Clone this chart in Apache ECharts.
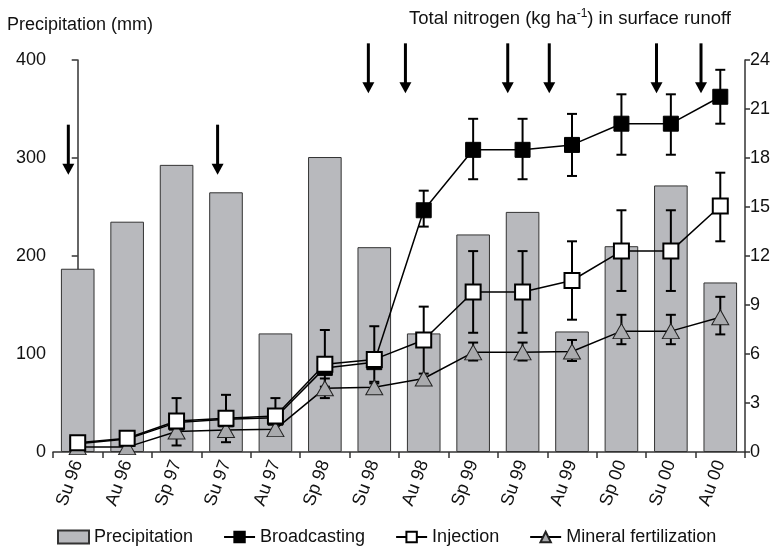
<!DOCTYPE html>
<html>
<head>
<meta charset="utf-8">
<script src="https://cdn.jsdelivr.net/npm/echarts@6/dist/echarts.min.js"></script>
<style>
html, body { margin: 0; padding: 0; background: #fff; }
#main { width: 776px; height: 549px; }
</style>
</head>
<body>
<div id="main"></div>
<script>
// seasons
var seasons = ['Su 96', 'Au 96', 'Sp 97', 'Su 97', 'Au 97', 'Sp 98', 'Su 98', 'Au 98', 'Sp 99', 'Su 99', 'Au 99', 'Sp 00', 'Su 00', 'Au 00'];
// precipitation (mm)
var precipitation = [187, 235, 293, 265, 121, 301, 209, 121, 222, 245, 123, 210, 272, 173];
// total N (kg/ha)
var broadcasting = [0.5, 0.8, 1.8, 2.0, 2.1, 5.15, 5.5, 14.8, 18.5, 18.5, 18.8, 20.1, 20.1, 21.75];
var injection = [0.57, 0.84, 1.9, 2.06, 2.2, 5.37, 5.67, 6.86, 9.8, 9.8, 10.5, 12.3, 12.3, 15.06];
var mineral = [0.3, 0.3, 1.25, 1.35, 1.4, 3.9, 3.96, 4.5, 6.1, 6.1, 6.15, 7.4, 7.4, 8.25];
// error bars [index, low, high]
var broadErr = [[7, 13.8, 16.0], [8, 16.7, 20.4], [9, 16.7, 20.4], [10, 16.9, 20.7], [11, 18.2, 21.9], [12, 18.2, 21.9], [13, 20.1, 23.4]];
var injErr = [[2, 0.4, 3.3], [3, 0.6, 3.5], [4, 1.1, 3.3], [5, 4.0, 7.47], [6, 4.2, 7.7], [7, 4.8, 8.9], [8, 7.3, 12.3], [9, 7.3, 12.3], [10, 8.1, 12.9], [11, 9.86, 14.8], [12, 9.86, 14.8], [13, 12.9, 17.1]];
var minErr = [[5, 3.3, 4.5], [6, 3.6, 4.3], [8, 5.6, 6.7], [9, 5.6, 6.7], [10, 5.57, 6.86], [11, 6.6, 8.4], [12, 6.6, 8.4], [13, 7.2, 9.5]];
// application arrows: [position on season scale, top, bottom] in mm units
var arrows = [[-0.19, 334, 283], [2.83, 334, 283], [5.88, 417, 366], [6.63, 417, 366], [8.70, 417, 366], [9.54, 417, 366], [11.71, 417, 366], [12.61, 417, 366]];

var FONT = 'Liberation Sans, Arial, sans-serif';

var errRender = function(params, api){
	var x = api.value(0);
	var lo = api.coord([x, api.value(1)]);
	var hi = api.coord([x, api.value(2)]);
	var w = 5;
	var st = {stroke: '#000', lineWidth: 2};
	return {
		type: 'group',
		children: [
			{type: 'line', shape: {x1: lo[0], y1: lo[1], x2: hi[0], y2: hi[1]}, style: st},
			{type: 'line', shape: {x1: hi[0] - w, y1: hi[1], x2: hi[0] + w, y2: hi[1]}, style: st},
			{type: 'line', shape: {x1: lo[0] - w, y1: lo[1], x2: lo[0] + w, y2: lo[1]}, style: st}
		]
	};
};

var arrowRender = function(params, api){
	var top = api.coord([api.value(0), api.value(1)]);
	var bot = api.coord([api.value(0), api.value(2)]);
	return {
		type: 'group',
		children: [
			{type: 'rect', shape: {x: top[0] - 1.5, y: top[1], width: 3, height: bot[1] - top[1] - 8}, style: {fill: '#000'}},
			{type: 'polygon', shape: {points: [[bot[0] - 6, bot[1] - 11], [bot[0] + 6, bot[1] - 11], [bot[0], bot[1]]]}, style: {fill: '#000'}}
		]
	};
};

var axisLine = {show: true, lineStyle: {color: '#333', width: 1.5}};

var option = {
	animation: false,
	textStyle: {fontFamily: FONT},
	title: [{
		text: 'Precipitation (mm)',
		left: 2, top: 11,
		textStyle: {fontSize: 18, fontWeight: 'normal', color: '#111', fontFamily: FONT}
	}, {
		text: '{a|Total nitrogen (kg ha}{s|-1}{a|) in surface runoff}',
		left: 404, top: 3,
		textStyle: {
			fontWeight: 'normal',
			rich: {
				a: {fontSize: 18.5, fontWeight: 'normal', color: '#111', fontFamily: FONT},
				s: {fontSize: 12, fontWeight: 'normal', color: '#111', fontFamily: FONT, padding: [0, 0, 9, 0]}
			}
		}
	}],
	legend: {
		data: [{name: 'Precipitation', icon: 'rect'}, 'Broadcasting', 'Injection', 'Mineral fertilization'],
		left: 52, top: 523,
		itemWidth: 31, itemHeight: 13, itemGap: 30,
		selectedMode: false,
		textStyle: {fontSize: 18, color: '#111', fontFamily: FONT}
	},
	grid: {left: 53, right: 31, top: 60, bottom: 97},
	xAxis: [{
		type: 'category',
		data: seasons,
		boundaryGap: true,
		axisLine: axisLine,
		axisTick: {show: true, interval: 0, length: 6, lineStyle: {color: '#333', width: 1.5}},
		axisLabel: {interval: 0, rotate: 70, fontSize: 18, color: '#111', margin: 9}
	}, {
		type: 'value', min: -0.5, max: 13.5, show: false
	}],
	yAxis: [{
		type: 'value', min: 0, max: 400, interval: 100,
		splitLine: {show: false},
		axisLine: axisLine,
		axisTick: {show: true, length: 6, lineStyle: {color: '#333', width: 1.5}},
		axisLabel: {fontSize: 18, color: '#111', margin: 7}
	}, {
		type: 'value', min: 0, max: 24, interval: 3,
		splitLine: {show: false},
		axisLine: axisLine,
		axisTick: {show: true, length: 5, lineStyle: {color: '#333', width: 1.5}},
		axisLabel: {fontSize: 18, color: '#111', margin: 5}
	}],
	series: [{
		name: 'Precipitation',
		type: 'bar',
		data: precipitation,
		barCategoryGap: '32%',
		itemStyle: {color: '#b8b9bd', borderColor: '#333', borderWidth: 1},
		z: 1
	}, {
		name: 'errBroad', type: 'custom', yAxisIndex: 1, data: broadErr, renderItem: errRender, z: 3
	}, {
		name: 'errInj', type: 'custom', yAxisIndex: 1, data: injErr, renderItem: errRender, z: 3
	}, {
		name: 'errMin', type: 'custom', yAxisIndex: 1, data: minErr, renderItem: errRender, z: 3
	}, {
		name: 'Broadcasting',
		type: 'line',
		yAxisIndex: 1,
		data: broadcasting,
		symbol: 'rect', symbolSize: 15,
		lineStyle: {color: '#000', width: 1.5},
		itemStyle: {color: '#000', borderColor: '#000', borderWidth: 1},
		z: 4
	}, {
		name: 'Mineral fertilization',
		type: 'line',
		yAxisIndex: 1,
		data: mineral,
		symbol: 'triangle', symbolSize: [17, 15],
		lineStyle: {color: '#000', width: 1.5},
		itemStyle: {color: '#a9aaad', borderColor: '#222', borderWidth: 1},
		z: 5
	}, {
		name: 'Injection',
		type: 'line',
		yAxisIndex: 1,
		data: injection,
		symbol: 'rect', symbolSize: 15,
		lineStyle: {color: '#000', width: 1.5},
		itemStyle: {color: '#fff', borderColor: '#000', borderWidth: 2},
		z: 6
	}, {
		name: 'arrows',
		type: 'custom',
		xAxisIndex: 1,
		yAxisIndex: 0,
		data: arrows,
		renderItem: arrowRender,
		clip: false,
		z: 7
	}]
};

var myChart = echarts.init(document.getElementById('main'));
myChart.setOption(option);
</script>
</body>
</html>
